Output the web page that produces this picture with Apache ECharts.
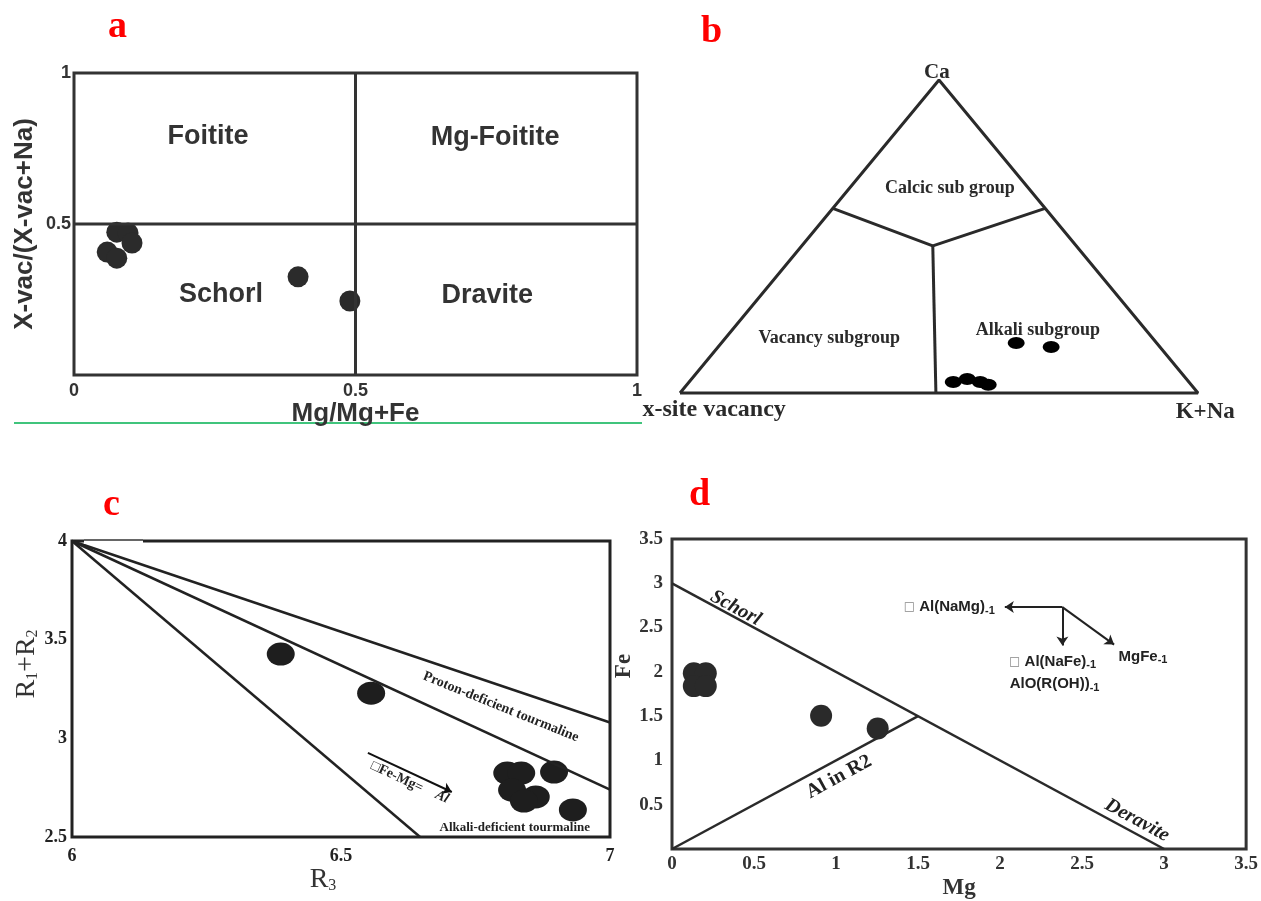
<!DOCTYPE html>
<html><head><meta charset="utf-8">
<script src="https://cdn.jsdelivr.net/npm/echarts@6/dist/echarts.min.js"></script>
<style>html,body{margin:0;padding:0;background:#fff}#c{width:1261px;height:901px}</style>
</head><body><div id="c"></div>
<script>
// ---------- DATA ----------
// Panel a: Mg/(Mg+Fe) vs X-vac/(X-vac+Na)
const aMgRatio = [0.076, 0.096, 0.103, 0.059, 0.076, 0.398, 0.490];
const aVacRatio = [0.473, 0.470, 0.437, 0.407, 0.387, 0.325, 0.245];
const aTicks = [0, 0.5, 1];
// Panel b: ternary Ca – x-site vacancy – K+Na (fractions)
const bCa  = [0.160, 0.147, 0.035, 0.045, 0.035, 0.026];
const bKNa = [0.569, 0.643, 0.510, 0.532, 0.562, 0.582];
// Panel c: R3 vs R1+R2
const cR3   = [6.388, 6.556, 6.809, 6.835, 6.896, 6.818, 6.862, 6.840, 6.931];
const cR1R2 = [3.427, 3.229, 2.824, 2.824, 2.829, 2.738, 2.703, 2.682, 2.637];
const cTicksX = [6, 6.5, 7];
const cTicksY = [2.5, 3, 3.5, 4];
// Panel d: Mg vs Fe
const dMg = [0.133, 0.206, 0.133, 0.206, 0.909, 1.254];
const dFe = [1.984, 1.984, 1.839, 1.839, 1.505, 1.360];
const dTicks = [0, 0.5, 1, 1.5, 2, 2.5, 3, 3.5];

// ---------- HELPERS ----------
const SANS = 'Liberation Sans, Arial, sans-serif';
const SERIF = 'Liberation Serif, Times New Roman, serif';
const zip = (a, b) => a.map((v, i) => [v, b[i]]);
const tern = (ca, kna) => [kna + ca / 2, ca];   // ternary -> unit cartesian

function lineSeries(idx, pts, color, width) {
  return { type: 'line', xAxisIndex: idx, yAxisIndex: idx, data: pts, showSymbol: false,
    symbol: 'none', silent: true, animation: false, clip: false,
    lineStyle: { color: color, width: width } };
}
function arrowSeries(idx, segs, color) {
  return { type: 'lines', coordinateSystem: 'cartesian2d', xAxisIndex: idx, yAxisIndex: idx,
    symbol: ['none', 'arrow'], symbolSize: 9, silent: true, animation: false,
    lineStyle: { color: color, width: 2, opacity: 1 },
    data: segs.map(s => ({ coords: s })) };
}
function textSeries(idx, items, base) {
  return { type: 'scatter', xAxisIndex: idx, yAxisIndex: idx, symbolSize: 0, clip: false,
    silent: true, animation: false, itemStyle: { opacity: 1 },
    label: Object.assign({ show: true, position: 'inside', formatter: p => p.data.txt,
      align: 'center', verticalAlign: 'middle', opacity: 1, textBorderWidth: 0 }, base),
    data: items.map(it => ({ value: it.at, txt: it.t, label: it.label || {} })) };
}
function scatterSeries(idx, pts, size, color) {
  return { type: 'scatter', xAxisIndex: idx, yAxisIndex: idx, data: pts, symbol: 'circle',
    symbolSize: size, silent: true, animation: false, itemStyle: { color: color, opacity: 1 } };
}
function valAxis(idx, ticks, extra) {
  return Object.assign({ type: 'value', gridIndex: idx, min: ticks[0], max: ticks[ticks.length - 1],
    interval: ticks[1] - ticks[0], axisLine: { show: false }, axisTick: { show: false },
    splitLine: { show: false } }, extra);
}

// ---------- OPTION ----------
const lblA = { fontFamily: SANS, fontWeight: 'bold', fontSize: 18, color: '#333' };
const lblSerif = (sz, col) => ({ fontFamily: SERIF, fontWeight: 'bold', fontSize: sz, color: col });

const option = {
  backgroundColor: '#fff',
  animation: false,
  grid: [
    { left: 74, top: 73, width: 563, height: 302, show: true, borderColor: '#333', borderWidth: 3 },
    { left: 680, top: 80, width: 518, height: 313, show: false },
    { left: 72, top: 541, width: 538, height: 296, show: true, borderColor: '#222', borderWidth: 3 },
    { left: 672, top: 539, width: 578, height: 314, show: true, borderColor: '#333', borderWidth: 3 }
  ],
  xAxis: [
    valAxis(0, aTicks, { axisLabel: Object.assign({ margin: 7 }, lblA),
      name: 'Mg/Mg+Fe', nameLocation: 'middle', nameGap: 20,
      nameTextStyle: { fontFamily: SANS, fontWeight: 'bold', fontSize: 26, color: '#333' } }),
    { type: 'value', gridIndex: 1, min: 0, max: 1, show: false },
    valAxis(2, cTicksX, { axisLabel: Object.assign({ margin: 10 }, lblSerif(18, '#222')),
      name: '{r|R}{s|3}', nameLocation: 'middle', nameGap: 14,
      nameTextStyle: { padding: [0, 36, 0, 0], rich: {
        r: { fontFamily: SERIF, fontSize: 28, color: '#333' },
        s: { fontFamily: SERIF, fontSize: 16, color: '#333', verticalAlign: 'bottom', padding: [12, 0, 0, 0] } } } }),
    valAxis(3, dTicks, { axisLabel: Object.assign({ margin: 6 }, lblSerif(19, '#333')),
      name: 'Mg', nameLocation: 'middle', nameGap: 28,
      nameTextStyle: { fontFamily: SERIF, fontWeight: 'bold', fontSize: 23, color: '#333' } })
  ],
  yAxis: [
    valAxis(0, aTicks, { axisLabel: Object.assign({ margin: 3, formatter: v => v === 0 ? '' : String(v) }, lblA),
      name: 'X-vac/(X-vac+Na)', nameLocation: 'middle', nameGap: 36, nameRotate: 90,
      nameTextStyle: { fontFamily: SANS, fontWeight: 'bold', fontSize: 26, color: '#333' } }),
    { type: 'value', gridIndex: 1, min: 0, max: 1, show: false },
    valAxis(2, cTicksY, { axisLabel: Object.assign({ margin: 5 }, lblSerif(18, '#222')),
      name: '{r|R}{s|1}{r|+R}{s|2}', nameLocation: 'middle', nameGap: 7, nameRotate: 90,
      nameTextStyle: { padding: [0, 0, 0, 50], rich: {
        r: { fontFamily: SERIF, fontSize: 28, color: '#333' },
        s: { fontFamily: SERIF, fontSize: 16, color: '#333', verticalAlign: 'bottom', padding: [12, 0, 0, 0] } } } }),
    valAxis(3, dTicks, { axisLabel: Object.assign({ margin: 9, formatter: v => v === 0 ? '' : String(v) }, lblSerif(19, '#333')),
      name: 'Fe', nameLocation: 'middle', nameGap: 34, nameRotate: 90,
      nameTextStyle: { fontFamily: SERIF, fontWeight: 'bold', fontSize: 23, color: '#333', padding: [0, 0, 0, 56] } })
  ],
  graphic: [
    { type: 'text', left: 108, top: 8, style: { text: 'a', fill: '#f00', font: 'bold 38px ' + SERIF } },
    { type: 'text', left: 701, top: 13, style: { text: 'b', fill: '#f00', font: 'bold 38px ' + SERIF } },
    { type: 'text', left: 103, top: 486, style: { text: 'c', fill: '#f00', font: 'bold 38px ' + SERIF } },
    { type: 'text', left: 689, top: 476, style: { text: 'd', fill: '#f00', font: 'bold 38px ' + SERIF } },
    { type: 'line', shape: { x1: 14, y1: 423, x2: 642, y2: 423 }, style: { stroke: '#00b050', lineWidth: 1.5 } },
    { type: 'rect', shape: { x: 84, y: 537, width: 59, height: 7 }, style: { fill: '#fff' }, z: 100 },
    { type: 'line', shape: { x1: 84, y1: 540, x2: 143, y2: 540 }, style: { stroke: '#333', lineWidth: 1.5 }, z: 101 }
  ],
  series: [
    // ---- panel a ----
    lineSeries(0, [[0.5, 0], [0.5, 1]], '#333', 3),
    lineSeries(0, [[0, 0.5], [1, 0.5]], '#333', 3),
    scatterSeries(0, zip(aMgRatio, aVacRatio), 21, '#2b2b2b'),
    textSeries(0, [
      { t: 'Foitite', at: [0.238, 0.791] },
      { t: 'Mg-Foitite', at: [0.748, 0.785] },
      { t: 'Schorl', at: [0.261, 0.265] },
      { t: 'Dravite', at: [0.734, 0.262] }
    ], { fontFamily: SANS, fontWeight: 'bold', fontSize: 27, color: '#333' }),
    // ---- panel b ----
    lineSeries(1, [tern(0, 0), tern(1, 0), tern(0, 1), tern(0, 0)], '#2a2a2a', 3),
    lineSeries(1, [tern(0.59, 0), tern(0.47, 0.253), tern(0.59, 0.41)], '#2a2a2a', 3),
    lineSeries(1, [tern(0.47, 0.253), tern(0, 0.494)], '#2a2a2a', 3),
    scatterSeries(1, bCa.map((c, i) => tern(c, bKNa[i])), [17, 12], '#000'),
    textSeries(1, [
      { t: 'Ca', at: [0.496, 1.025], label: { fontSize: 21 } },
      { t: 'x-site vacancy', at: [0.066, -0.054], label: { fontSize: 24 } },
      { t: 'K+Na', at: [1.014, -0.061], label: { fontSize: 23 } },
      { t: 'Calcic sub group', at: [0.521, 0.655] },
      { t: 'Vacancy subgroup', at: [0.288, 0.176] },
      { t: 'Alkali subgroup', at: [0.691, 0.201] }
    ], { fontFamily: SERIF, fontWeight: 'bold', fontSize: 18, color: '#2a2a2a' }),
    // ---- panel c ----
    lineSeries(2, [[6, 4], [7, 3.08]], '#222', 2.5),
    lineSeries(2, [[6, 4], [7, 2.74]], '#222', 2.5),
    lineSeries(2, [[6, 4], [6.647, 2.5]], '#222', 2.5),
    scatterSeries(2, zip(cR3, cR1R2), [28, 23], '#1e1e1e'),
    arrowSeries(2, [[[6.550, 2.926], [6.706, 2.728]]], '#111'),
    textSeries(2, [
      { t: 'Proton-deficient tourmaline', at: [6.797, 3.159], label: { rotate: -22, fontSize: 14 } },
      { t: 'Alkali-deficient tourmaline', at: [6.823, 2.546] },
      { t: '\u25A1Fe-Mg=', at: [6.604, 2.804], label: { rotate: -25, fontSize: 14 } },
      { t: 'Al', at: [6.688, 2.703], label: { rotate: -25, fontSize: 14, fontStyle: 'italic' } }
    ], { fontFamily: SERIF, fontWeight: 'bold', fontSize: 13, color: '#222' }),
    // ---- panel d ----
    lineSeries(3, [[0, 3], [3, 0]], '#2a2a2a', 2.5),
    lineSeries(3, [[0, 0], [1.5, 1.5]], '#2a2a2a', 2.5),
    scatterSeries(3, zip(dMg, dFe), 22, '#2a2a2a'),
    arrowSeries(3, [
      [[2.380, 2.731], [2.029, 2.731]],
      [[2.380, 2.731], [2.380, 2.297]],
      [[2.380, 2.731], [2.695, 2.308]]
    ], '#222'),
    textSeries(3, [
      { t: 'Schorl', at: [0.388, 2.72], label: { rotate: -28.5 } },
      { t: 'Al in R2', at: [1.018, 0.814], label: { rotate: 28.5, fontStyle: 'normal' } },
      { t: 'Deravite', at: [2.835, 0.323], label: { rotate: -28.5 } }
    ], { fontFamily: SERIF, fontWeight: 'bold', fontStyle: 'italic', fontSize: 20, color: '#222' }),
    textSeries(3, [
      { t: '{b|\u25A1} Al(NaMg){s|-1}', at: [1.69, 2.731] },
      { t: '{b|\u25A1} Al(NaFe){s|-1}', at: [2.32, 2.118] },
      { t: 'AlO(R(OH)){s|-1}', at: [2.332, 1.862] },
      { t: 'MgFe{s|-1}', at: [2.871, 2.174] }
    ], { fontFamily: SANS, fontWeight: 'bold', fontSize: 15, color: '#222',
      rich: {
        b: { fontFamily: 'DejaVu Sans', fontSize: 12, color: '#888', fontWeight: 'normal' },
        s: { fontFamily: SANS, fontWeight: 'bold', fontSize: 11, color: '#222', verticalAlign: 'bottom', padding: [8, 0, 0, 0] }
      } })
  ]
};

const chart = echarts.init(document.getElementById('c'), null, { renderer: 'canvas' });
chart.setOption(option);
</script>
</body></html>
